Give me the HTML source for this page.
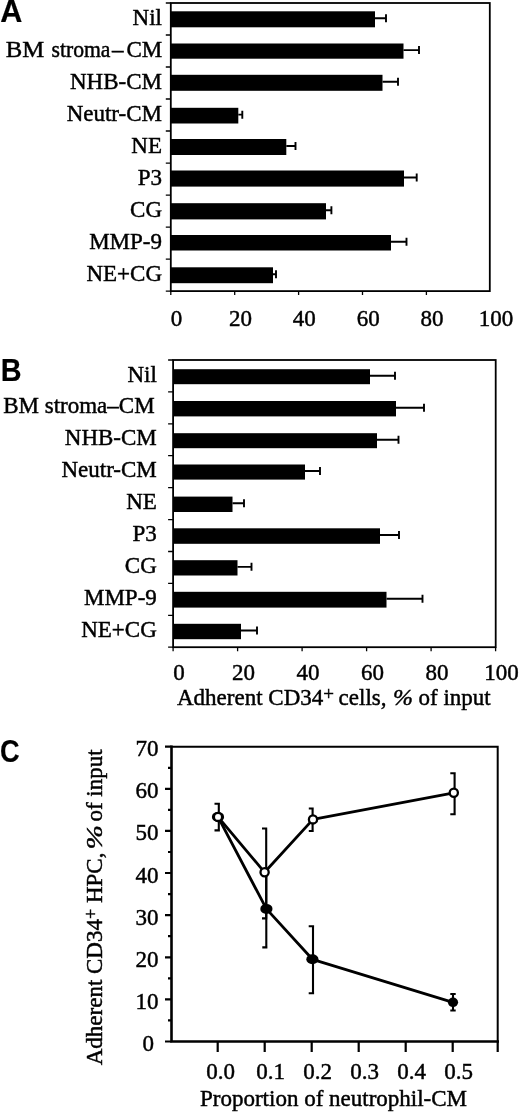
<!DOCTYPE html>
<html lang="en"><head><meta charset="utf-8"><title>Figure</title>
<style>
html,body{margin:0;padding:0;background:#fff;}
body{width:520px;height:1113px;overflow:hidden;}
svg{display:block;}
text{font-family:"Liberation Serif",serif;font-size:23px;fill:#000;stroke:#000;stroke-width:0.45px;}
.pl{font-family:"Liberation Sans",sans-serif;font-weight:bold;stroke-width:0.2px;}
.ln{stroke:#000;fill:none;}
.bar{fill:#000;}
</style></head><body>
<svg width="520" height="1113" viewBox="0 0 520 1113">
<rect x="0" y="0" width="520" height="1113" fill="#fff"/>
<text class="pl" style="font-size:30.6px" transform="translate(0.3 22.1) scale(1 1)">A</text>
<g id="panel-a">
<rect class="ln" x="170.8" y="3" width="319" height="288.1" stroke-width="1.8"/>
<path class="ln" stroke-width="1.3" d="M165.8 3.0H170.8M165.8 35.0H170.8M165.8 67.0H170.8M165.8 99.0H170.8M165.8 131.0H170.8M165.8 163.1H170.8M165.8 195.1H170.8M165.8 227.1H170.8M165.8 259.1H170.8M165.8 291.1H170.8M170.8 291.1V295.1M234.7 291.1V295.1M298.6 291.1V295.1M362.5 291.1V295.1M426.4 291.1V295.1"/>
<rect class="bar" x="170.8" y="11.3" width="204.2" height="16"/>
<path class="ln" stroke-width="1.9" d="M375 18.3H386M386 14.3V22.3"/>
<text x="162" y="24.8" text-anchor="end">Nil</text>
<rect class="bar" x="170.8" y="43.5" width="232.7" height="15.2"/>
<path class="ln" stroke-width="1.9" d="M403.5 50.1H419M419 46.1V54.1"/>
<text y="56.8"><tspan x="5.7" textLength="38.5" lengthAdjust="spacingAndGlyphs">BM</tspan><tspan x="51.5" textLength="59" lengthAdjust="spacingAndGlyphs">stroma</tspan><tspan x="112">–</tspan><tspan x="126.4">CM</tspan></text>
<rect class="bar" x="170.8" y="74.8" width="211.7" height="16"/>
<path class="ln" stroke-width="1.9" d="M382.5 81.8H398M398 77.8V85.8"/>
<text x="162" y="88.8" text-anchor="end">NHB-CM</text>
<rect class="bar" x="170.8" y="107.8" width="67.5" height="15.7"/>
<path class="ln" stroke-width="1.9" d="M238.3 114.65H242.3M242.3 110.65V118.65"/>
<text x="162" y="120.8" text-anchor="end">Neutr-CM</text>
<rect class="bar" x="170.8" y="139" width="115.5" height="16"/>
<path class="ln" stroke-width="1.9" d="M286.3 146H295.5M295.5 142V150"/>
<text x="162" y="152.8" text-anchor="end">NE</text>
<rect class="bar" x="170.8" y="170.5" width="233.2" height="16.1"/>
<path class="ln" stroke-width="1.9" d="M404 177.55H416.7M416.7 173.55V181.55"/>
<text x="162" y="184.8" text-anchor="end">P3</text>
<rect class="bar" x="170.8" y="203.2" width="155.2" height="16.2"/>
<path class="ln" stroke-width="1.9" d="M326 210.3H331.4M331.4 206.3V214.3"/>
<text x="162" y="216.8" text-anchor="end">CG</text>
<rect class="bar" x="170.8" y="235" width="220.2" height="15.5"/>
<path class="ln" stroke-width="1.9" d="M391 241.75H406.5M406.5 237.75V245.75"/>
<text x="162" y="248.8" text-anchor="end">MMP-9</text>
<rect class="bar" x="170.8" y="267.3" width="102.2" height="15.9"/>
<path class="ln" stroke-width="1.9" d="M273 274.25H276M276 270.25V278.25"/>
<text x="162" y="280.8" text-anchor="end">NE+CG</text>
<text x="176.5" y="326" text-anchor="middle">0</text>
<text x="240.4" y="326" text-anchor="middle">20</text>
<text x="304.3" y="326" text-anchor="middle">40</text>
<text x="368.2" y="326" text-anchor="middle">60</text>
<text x="432.1" y="326" text-anchor="middle">80</text>
<text x="496.0" y="326" text-anchor="middle">100</text>
</g>
<text class="pl" style="font-size:31px" transform="translate(0.7 381) scale(0.93 1)">B</text>
<g id="panel-b">
<rect class="ln" x="173.1" y="360" width="322.6" height="287.2" stroke-width="1.8"/>
<path class="ln" stroke-width="1.3" d="M168.1 360.0H173.1M168.1 391.9H173.1M168.1 423.8H173.1M168.1 455.7H173.1M168.1 487.6H173.1M168.1 519.6H173.1M168.1 551.5H173.1M168.1 583.4H173.1M168.1 615.3H173.1M168.1 647.2H173.1M173.1 647.2V651.2M237.6 647.2V651.2M302.1 647.2V651.2M366.6 647.2V651.2M431.1 647.2V651.2M495.6 647.2V651.2"/>
<rect class="bar" x="173.1" y="369.2" width="196.9" height="15"/>
<path class="ln" stroke-width="1.9" d="M370 375.7H395M395 371.7V379.7"/>
<text x="156.8" y="381.5" text-anchor="end">Nil</text>
<rect class="bar" x="173.1" y="401" width="222.9" height="15.4"/>
<path class="ln" stroke-width="1.9" d="M396 407.7H424M424 403.7V411.7"/>
<text x="154.6" y="413.4" text-anchor="end">BM stroma–CM</text>
<rect class="bar" x="173.1" y="433.2" width="203.9" height="15"/>
<path class="ln" stroke-width="1.9" d="M377 439.7H398.5M398.5 435.7V443.7"/>
<text x="156.8" y="445.3" text-anchor="end">NHB-CM</text>
<rect class="bar" x="173.1" y="464.5" width="131.9" height="15.1"/>
<path class="ln" stroke-width="1.9" d="M305 471.05H320M320 467.05V475.05"/>
<text x="156.8" y="477.2" text-anchor="end">Neutr-CM</text>
<rect class="bar" x="173.1" y="496.6" width="59.4" height="15.4"/>
<path class="ln" stroke-width="1.9" d="M232.5 503.3H244M244 499.3V507.3"/>
<text x="156.8" y="509.1" text-anchor="end">NE</text>
<rect class="bar" x="173.1" y="528.3" width="206.9" height="15.5"/>
<path class="ln" stroke-width="1.9" d="M380 535.05H399M399 531.05V539.05"/>
<text x="156.8" y="541" text-anchor="end">P3</text>
<rect class="bar" x="173.1" y="560.2" width="64.4" height="15.3"/>
<path class="ln" stroke-width="1.9" d="M237.5 566.85H251.5M251.5 562.85V570.85"/>
<text x="156.8" y="572.9" text-anchor="end">CG</text>
<rect class="bar" x="173.1" y="591.8" width="213.4" height="15.8"/>
<path class="ln" stroke-width="1.9" d="M386.5 598.7H422.5M422.5 594.7V602.7"/>
<text x="156.8" y="604.8" text-anchor="end">MMP-9</text>
<rect class="bar" x="173.1" y="623.8" width="67.9" height="15.4"/>
<path class="ln" stroke-width="1.9" d="M241 630.5H257M257 626.5V634.5"/>
<text x="156.8" y="636.7" text-anchor="end">NE+CG</text>
<text x="179.1" y="680.4" text-anchor="middle">0</text>
<text x="243.6" y="680.4" text-anchor="middle">20</text>
<text x="308.1" y="680.4" text-anchor="middle">40</text>
<text x="372.6" y="680.4" text-anchor="middle">60</text>
<text x="437.1" y="680.4" text-anchor="middle">80</text>
<text x="501.6" y="680.4" text-anchor="middle">100</text>
<text y="705.4"><tspan x="177">Adherent CD34</tspan><tspan font-size="19" dy="-5.5">+</tspan><tspan x="338.6" dy="5.5">cells,</tspan><tspan x="418.6">of</tspan><tspan x="443.4">input</tspan></text><text transform="translate(393 705.4) scale(1.04 1)" font-style="italic">%</text>
</g>
<g id="panel-c">
<text class="pl" style="font-size:31px" transform="translate(0 762.4) scale(0.875 1)">C</text>
<path class="ln" stroke-width="2" d="M171.5 746.7H497.7V1041.5"/>
<path class="ln" stroke-width="2.6" stroke-linecap="square" d="M171.5 746.7V1041.5H497.7"/>
<path class="ln" stroke-width="2.2" d="M165 1041.5H171.5M168 1020.4H171.5M165 999.4H171.5M168 978.3H171.5M165 957.3H171.5M168 936.2H171.5M165 915.2H171.5M168 894.1H171.5M165 873.0H171.5M168 852.0H171.5M165 830.9H171.5M168 809.9H171.5M165 788.8H171.5M168 767.8H171.5M165 746.7H171.5M217.7 1041.5V1052M264.7 1041.5V1052M311.7 1041.5V1052M358.7 1041.5V1052M405.7 1041.5V1052M452.7 1041.5V1052M497.7 1041.5V1052"/>
<text x="154" y="1051.4" text-anchor="end">0</text>
<text x="158.6" y="1009.3" text-anchor="end">10</text>
<text x="158.6" y="967.2" text-anchor="end">20</text>
<text x="158.6" y="925.1" text-anchor="end">30</text>
<text x="158.6" y="882.9" text-anchor="end">40</text>
<text x="158.6" y="840.4" text-anchor="end">50</text>
<text x="158.6" y="798.3" text-anchor="end">60</text>
<text x="158.6" y="756.2" text-anchor="end">70</text>
<text x="220.6" y="1079" text-anchor="middle">0.0</text>
<text x="270.7" y="1079" text-anchor="middle">0.1</text>
<text x="317.7" y="1079" text-anchor="middle">0.2</text>
<text x="364.7" y="1079" text-anchor="middle">0.3</text>
<text x="411.7" y="1079" text-anchor="middle">0.4</text>
<text x="458.7" y="1079" text-anchor="middle">0.5</text>
<text x="200" y="1106">Proportion of neutrophil-CM</text>
<g transform="translate(101.6 1065.3) rotate(-90)"><text y="0"><tspan x="0">Adherent CD34</tspan><tspan font-size="18" dy="-4.5">+</tspan><tspan x="162.2" dy="4.5">HPC,</tspan><tspan x="243.7">of input</tspan></text><text transform="translate(215.8 0) scale(1.28 1)" font-style="italic">%</text></g>
<polyline class="ln" stroke-width="2.8" stroke-linejoin="round" points="218.0,816.9 266.4,908.9 312.4,959.3 453.0,1002.3"/>
<path class="ln" stroke-width="2.1" d="M262.3 872.0H267.4M266.3 872.0V947.4M262.3 947.4H267.4"/>
<path class="ln" stroke-width="2.1" d="M308.7 926.3H314.1M313.0 926.3V993.3M308.7 993.3H314.1"/>
<path class="ln" stroke-width="2.1" d="M450.3 994.0H455.7M453.0 994.0V1010.5M450.3 1010.5H455.7"/>
<ellipse cx="218.0" cy="816.9" rx="6.1" ry="5" fill="#000"/>
<ellipse cx="266.4" cy="908.9" rx="6.1" ry="5" fill="#000"/>
<ellipse cx="312.4" cy="959.3" rx="6.1" ry="5" fill="#000"/>
<ellipse cx="453.0" cy="1002.3" rx="5.1" ry="4.8" fill="#000"/>
<polyline class="ln" stroke-width="2.8" stroke-linejoin="round" points="218.0,816.9 264.6,872.3 313.0,819.4 453.8,792.8"/>
<path class="ln" stroke-width="2.1" d="M214.5 803.8H219.9M218.8 803.8V830.4M214.5 830.4H219.9"/>
<path class="ln" stroke-width="2.1" d="M262.0 828.5H267.2M266.2 828.5V918.4M262.0 918.4H267.2"/>
<path class="ln" stroke-width="2.1" d="M308.8 808.5H313.7M312.6 808.5V831.0M308.8 831.0H313.7"/>
<path class="ln" stroke-width="2.1" d="M450.3 773.2H455.7M454.6 773.2V814.2M450.3 814.2H455.7"/>
<circle cx="218.0" cy="816.9" r="4.1" fill="#fff" stroke="#000" stroke-width="2.3"/>
<circle cx="264.6" cy="872.3" r="4.1" fill="#fff" stroke="#000" stroke-width="2.3"/>
<circle cx="313.0" cy="819.4" r="4.1" fill="#fff" stroke="#000" stroke-width="2.3"/>
<circle cx="453.8" cy="792.8" r="4.1" fill="#fff" stroke="#000" stroke-width="2.3"/>
</g>
</svg></body></html>
